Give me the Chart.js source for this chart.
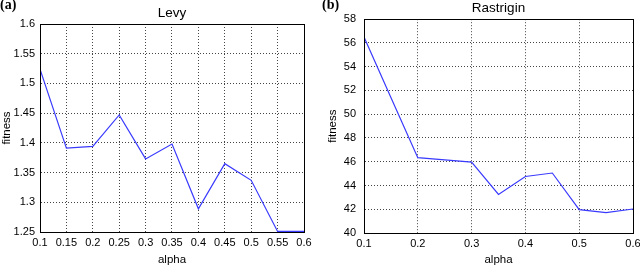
<!DOCTYPE html>
<html><head><meta charset="utf-8">
<script src="https://cdn.jsdelivr.net/npm/chart.js@4.4.0/dist/chart.umd.min.js"></script>
<style>
html,body{margin:0;padding:0;background:#fff;width:640px;height:267px;overflow:hidden}
.c{position:absolute;left:0;top:0;width:640px;height:267px}
.lab{position:absolute;top:-3px;font:bold 14px "Liberation Serif",serif;color:#000}
</style></head>
<body>
<div class="c"><canvas id="ca" width="640" height="267"></canvas></div>
<div class="c"><canvas id="cb" width="640" height="267"></canvas></div>
<div class="lab" style="left:0px">(a)</div>
<div class="lab" style="left:322px">(b)</div>
<script>
// ---- data ----
const levyAlpha = [0.1,0.15,0.2,0.25,0.3,0.35,0.4,0.45,0.5,0.55,0.6];
const levyFitness = [1.524,1.391,1.394,1.447,1.373,1.398,1.289,1.365,1.337,1.251,1.251];
const rastAlpha = [0.1,0.15,0.2,0.25,0.3,0.35,0.4,0.45,0.5,0.55,0.6];
const rastFitness = [56.5,51.4,46.34,46.15,45.97,43.25,44.76,45.05,41.96,41.71,42.02];
const levyTitle = 'Levy';
const rastTitle = 'Rastrigin';
const xLabel = 'alpha';
const yLabel = 'fitness';

const FONT = '"Liberation Sans", Arial, sans-serif';

const frame = {
  id: 'frame',
  afterDraw(c) {
    const {ctx, chartArea: a} = c;
    ctx.save();
    ctx.strokeStyle = '#000';
    ctx.lineWidth = 1;
    ctx.strokeRect(Math.round(a.left) + 0.5, Math.round(a.top) + 0.5,
      Math.round(a.right) - Math.round(a.left), Math.round(a.bottom) - Math.round(a.top));
    ctx.restore();
  }
};

function fmt(v) { return String(parseFloat(Number(v).toFixed(2))); }

function makeChart(id, xs, ys, cfg) {
  const pts = xs.map((x, i) => ({x: x, y: ys[i]}));
  return new Chart(document.getElementById(id), {
    type: 'line',
    data: {datasets: [{data: pts, borderColor: '#3a3aff', borderWidth: 1.2,
      pointRadius: 0, tension: 0, fill: false}]},
    options: {
      responsive: false, animation: false,
      layout: {padding: cfg.pad},
      plugins: {
        legend: {display: false}, tooltip: {enabled: false},
        title: {display: true, text: cfg.title, fullSize: false, color: '#000',
          font: {family: FONT, size: 13.5, weight: 'normal'}, padding: cfg.titlePad}
      },
      scales: {
        x: {
          type: 'linear', min: cfg.xmin, max: cfg.xmax,
          ticks: {stepSize: cfg.xstep, color: '#000', padding: 4,
            font: {family: FONT, size: cfg.tickSize}, callback: v => fmt(v), maxRotation: 0, autoSkip: false},
          grid: {color: '#444', drawTicks: false, lineWidth: 1},
          border: {display: true, color: '#000', dash: [1, 2]},
          title: {display: true, text: xLabel, color: '#000', padding: {top: 0, bottom: 0},
            font: {family: FONT, size: 11.5}},
          afterFit: s => { s.height = cfg.xh; s.paddingLeft = 0; s.paddingRight = 0; }
        },
        y: {
          type: 'linear', min: cfg.ymin, max: cfg.ymax,
          ticks: {stepSize: cfg.ystep, color: '#000', padding: cfg.ypad,
            font: {family: FONT, size: cfg.tickSize}, callback: v => fmt(v), autoSkip: false},
          grid: {color: '#444', drawTicks: false, lineWidth: 1},
          border: {display: true, color: '#000', dash: [1, 2]},
          title: {display: true, text: yLabel, color: '#000', padding: {top: cfg.ytp, bottom: 0},
            font: {family: FONT, size: 11.5}},
          afterFit: s => { s.width = cfg.yw; s.paddingTop = 0; s.paddingBottom = 0; }
        }
      }
    },
    plugins: [frame]
  });
}

makeChart('ca', levyAlpha, levyFitness, {
  title: levyTitle, pad: {left: 0, right: 336, top: 0, bottom: 0},
  titlePad: {top: 5, bottom: 2.8}, xmin: 0.1, xmax: 0.6, xstep: 0.05,
  ymin: 1.25, ymax: 1.6, ystep: 0.05, xh: 35, yw: 40, ypad: 5, ytp: 0, tickSize: 11
});
makeChart('cb', rastAlpha, rastFitness, {
  title: rastTitle, pad: {left: 320, right: 7, top: 0, bottom: 0},
  titlePad: {top: 0, bottom: 3}, xmin: 0.1, xmax: 0.6, xstep: 0.1,
  ymin: 40, ymax: 58, ystep: 2, xh: 34, yw: 44, ypad: 8, ytp: 6, tickSize: 11
});
</script>
</body></html>
